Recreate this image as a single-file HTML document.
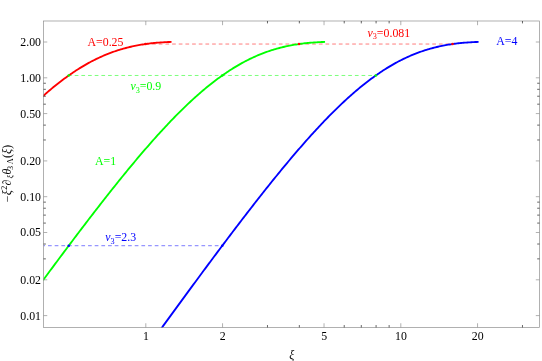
<!DOCTYPE html>
<html><head><meta charset="utf-8"><title>plot</title>
<style>
html,body{margin:0;padding:0;background:#fff;}
body{width:542px;height:361px;overflow:hidden;}
svg{display:block;will-change:transform;}
text{font-family:"Liberation Serif",serif;font-size:11.85px;}
.i{font-style:italic;}
</style></head><body>
<svg width="542" height="361" viewBox="0 0 542 361">
<rect width="542" height="361" fill="#fff"/>
<g fill="none" stroke-width="0.52">
<line x1="145.50" y1="44.04" x2="452.55" y2="44.04" stroke="#ff0000" stroke-dasharray="3.7 2.971" stroke-dashoffset="0.1"/>
<line x1="68.74" y1="75.48" x2="375.79" y2="75.48" stroke="#00ff00" stroke-dasharray="3.7 2.971" stroke-dashoffset="0.7"/>
<line x1="43.55" y1="245.71" x2="222.26" y2="245.71" stroke="#0000ff" stroke-dasharray="3.7 2.971" stroke-dashoffset="2.2"/>
</g>
<clipPath id="c"><rect x="43.25" y="21.00" width="496.25" height="306.75"/></clipPath>
<g fill="none" stroke-width="1.85" stroke-linejoin="round" stroke-linecap="square" clip-path="url(#c)">
<path d="M43.55 95.61 L43.97 95.23 L45.25 94.11 L46.53 92.99 L47.81 91.89 L49.09 90.79 L50.37 89.71 L51.65 88.64 L52.93 87.58 L54.21 86.54 L55.48 85.50 L56.76 84.48 L58.04 83.46 L59.32 82.46 L60.60 81.48 L61.88 80.50 L63.16 79.54 L64.44 78.59 L65.72 77.65 L67.00 76.72 L68.28 75.81 L69.56 74.90 L70.83 74.02 L72.11 73.14 L73.39 72.28 L74.67 71.43 L75.95 70.59 L77.23 69.76 L78.51 68.95 L79.79 68.15 L81.07 67.37 L82.35 66.59 L83.63 65.83 L84.91 65.09 L86.18 64.35 L87.46 63.63 L88.74 62.92 L90.02 62.23 L91.30 61.55 L92.58 60.88 L93.86 60.22 L95.14 59.58 L96.42 58.95 L97.70 58.34 L98.98 57.73 L100.26 57.14 L101.54 56.57 L102.81 56.00 L104.09 55.45 L105.37 54.91 L106.65 54.39 L107.93 53.88 L109.21 53.37 L110.49 52.89 L111.77 52.41 L113.05 51.95 L114.33 51.50 L115.61 51.06 L116.89 50.64 L118.16 50.22 L119.44 49.82 L120.72 49.43 L122.00 49.05 L123.28 48.69 L124.56 48.33 L125.84 47.99 L127.12 47.66 L128.40 47.33 L129.68 47.02 L130.96 46.73 L132.24 46.44 L133.52 46.16 L134.79 45.89 L136.07 45.64 L137.35 45.39 L138.63 45.15 L139.91 44.92 L141.19 44.71 L142.47 44.50 L143.75 44.30 L145.03 44.11 L146.31 43.93 L147.59 43.76 L148.87 43.59 L150.14 43.44 L151.42 43.29 L152.70 43.15 L153.98 43.02 L155.26 42.90 L156.54 42.78 L157.82 42.67 L159.10 42.57 L160.38 42.47 L161.66 42.38 L162.94 42.30 L164.22 42.22 L165.50 42.15 L166.77 42.08 L168.05 42.02 L169.33 41.96 L170.61 41.91" stroke="#ff0000"/>
<path d="M43.55 279.57 L43.99 278.97 L45.27 277.23 L46.55 275.50 L47.83 273.77 L49.11 272.04 L50.39 270.32 L51.67 268.59 L52.95 266.87 L54.23 265.14 L55.51 263.42 L56.78 261.70 L58.06 259.98 L59.34 258.26 L60.62 256.55 L61.90 254.84 L63.18 253.12 L64.46 251.41 L65.74 249.70 L67.02 248.00 L68.30 246.29 L69.58 244.59 L70.86 242.89 L72.14 241.19 L73.41 239.49 L74.69 237.80 L75.97 236.11 L77.25 234.42 L78.53 232.73 L79.81 231.04 L81.09 229.36 L82.37 227.68 L83.65 226.00 L84.93 224.32 L86.21 222.65 L87.49 220.97 L88.76 219.31 L90.04 217.64 L91.32 215.98 L92.60 214.32 L93.88 212.66 L95.16 211.00 L96.44 209.35 L97.72 207.70 L99.00 206.06 L100.28 204.41 L101.56 202.77 L102.84 201.14 L104.12 199.50 L105.39 197.87 L106.67 196.25 L107.95 194.63 L109.23 193.01 L110.51 191.39 L111.79 189.78 L113.07 188.17 L114.35 186.57 L115.63 184.97 L116.91 183.37 L118.19 181.78 L119.47 180.19 L120.74 178.61 L122.02 177.03 L123.30 175.46 L124.58 173.89 L125.86 172.32 L127.14 170.76 L128.42 169.21 L129.70 167.66 L130.98 166.11 L132.26 164.57 L133.54 163.04 L134.82 161.51 L136.10 159.98 L137.37 158.46 L138.65 156.95 L139.93 155.44 L141.21 153.94 L142.49 152.44 L143.77 150.95 L145.05 149.47 L146.33 147.99 L147.61 146.52 L148.89 145.05 L150.17 143.59 L151.45 142.14 L152.72 140.70 L154.00 139.26 L155.28 137.83 L156.56 136.40 L157.84 134.98 L159.12 133.57 L160.40 132.17 L161.68 130.78 L162.96 129.39 L164.24 128.01 L165.52 126.64 L166.80 125.27 L168.08 123.92 L169.35 122.57 L170.63 121.23 L171.91 119.90 L173.19 118.58 L174.47 117.26 L175.75 115.96 L177.03 114.66 L178.31 113.37 L179.59 112.10 L180.87 110.83 L182.15 109.57 L183.43 108.32 L184.70 107.08 L185.98 105.85 L187.26 104.63 L188.54 103.42 L189.82 102.22 L191.10 101.03 L192.38 99.85 L193.66 98.68 L194.94 97.52 L196.22 96.37 L197.50 95.23 L198.78 94.11 L200.06 92.99 L201.33 91.89 L202.61 90.79 L203.89 89.71 L205.17 88.64 L206.45 87.58 L207.73 86.54 L209.01 85.50 L210.29 84.48 L211.57 83.46 L212.85 82.46 L214.13 81.48 L215.41 80.50 L216.68 79.54 L217.96 78.59 L219.24 77.65 L220.52 76.72 L221.80 75.81 L223.08 74.90 L224.36 74.02 L225.64 73.14 L226.92 72.28 L228.20 71.43 L229.48 70.59 L230.76 69.76 L232.04 68.95 L233.31 68.15 L234.59 67.37 L235.87 66.59 L237.15 65.83 L238.43 65.09 L239.71 64.35 L240.99 63.63 L242.27 62.92 L243.55 62.23 L244.83 61.55 L246.11 60.88 L247.39 60.22 L248.66 59.58 L249.94 58.95 L251.22 58.34 L252.50 57.73 L253.78 57.14 L255.06 56.57 L256.34 56.00 L257.62 55.45 L258.90 54.91 L260.18 54.39 L261.46 53.88 L262.74 53.37 L264.02 52.89 L265.29 52.41 L266.57 51.95 L267.85 51.50 L269.13 51.06 L270.41 50.64 L271.69 50.22 L272.97 49.82 L274.25 49.43 L275.53 49.05 L276.81 48.69 L278.09 48.33 L279.37 47.99 L280.64 47.66 L281.92 47.33 L283.20 47.02 L284.48 46.73 L285.76 46.44 L287.04 46.16 L288.32 45.89 L289.60 45.64 L290.88 45.39 L292.16 45.15 L293.44 44.92 L294.72 44.71 L295.99 44.50 L297.27 44.30 L298.55 44.11 L299.83 43.93 L301.11 43.76 L302.39 43.59 L303.67 43.44 L304.95 43.29 L306.23 43.15 L307.51 43.02 L308.79 42.90 L310.07 42.78 L311.35 42.67 L312.62 42.57 L313.90 42.47 L315.18 42.38 L316.46 42.30 L317.74 42.22 L319.02 42.15 L320.30 42.08 L321.58 42.02 L322.86 41.96 L324.14 41.91" stroke="#00ff00"/>
<path d="M162.04 327.45 L162.98 326.15 L164.26 324.39 L165.54 322.64 L166.82 320.88 L168.10 319.12 L169.38 317.37 L170.66 315.61 L171.93 313.86 L173.21 312.10 L174.49 310.35 L175.77 308.60 L177.05 306.85 L178.33 305.10 L179.61 303.35 L180.89 301.60 L182.17 299.85 L183.45 298.11 L184.73 296.36 L186.01 294.62 L187.28 292.87 L188.56 291.13 L189.84 289.39 L191.12 287.65 L192.40 285.91 L193.68 284.17 L194.96 282.44 L196.24 280.70 L197.52 278.97 L198.80 277.23 L200.08 275.50 L201.36 273.77 L202.64 272.04 L203.91 270.32 L205.19 268.59 L206.47 266.87 L207.75 265.14 L209.03 263.42 L210.31 261.70 L211.59 259.98 L212.87 258.26 L214.15 256.55 L215.43 254.84 L216.71 253.12 L217.99 251.41 L219.26 249.70 L220.54 248.00 L221.82 246.29 L223.10 244.59 L224.38 242.89 L225.66 241.19 L226.94 239.49 L228.22 237.80 L229.50 236.11 L230.78 234.42 L232.06 232.73 L233.34 231.04 L234.62 229.36 L235.89 227.68 L237.17 226.00 L238.45 224.32 L239.73 222.65 L241.01 220.97 L242.29 219.31 L243.57 217.64 L244.85 215.98 L246.13 214.32 L247.41 212.66 L248.69 211.00 L249.97 209.35 L251.24 207.70 L252.52 206.06 L253.80 204.41 L255.08 202.77 L256.36 201.14 L257.64 199.50 L258.92 197.87 L260.20 196.25 L261.48 194.63 L262.76 193.01 L264.04 191.39 L265.32 189.78 L266.59 188.17 L267.87 186.57 L269.15 184.97 L270.43 183.37 L271.71 181.78 L272.99 180.19 L274.27 178.61 L275.55 177.03 L276.83 175.46 L278.11 173.89 L279.39 172.32 L280.67 170.76 L281.95 169.21 L283.22 167.66 L284.50 166.11 L285.78 164.57 L287.06 163.04 L288.34 161.51 L289.62 159.98 L290.90 158.46 L292.18 156.95 L293.46 155.44 L294.74 153.94 L296.02 152.44 L297.30 150.95 L298.57 149.47 L299.85 147.99 L301.13 146.52 L302.41 145.05 L303.69 143.59 L304.97 142.14 L306.25 140.70 L307.53 139.26 L308.81 137.83 L310.09 136.40 L311.37 134.98 L312.65 133.57 L313.93 132.17 L315.20 130.78 L316.48 129.39 L317.76 128.01 L319.04 126.64 L320.32 125.27 L321.60 123.92 L322.88 122.57 L324.16 121.23 L325.44 119.90 L326.72 118.58 L328.00 117.26 L329.28 115.96 L330.55 114.66 L331.83 113.37 L333.11 112.10 L334.39 110.83 L335.67 109.57 L336.95 108.32 L338.23 107.08 L339.51 105.85 L340.79 104.63 L342.07 103.42 L343.35 102.22 L344.63 101.03 L345.91 99.85 L347.18 98.68 L348.46 97.52 L349.74 96.37 L351.02 95.23 L352.30 94.11 L353.58 92.99 L354.86 91.89 L356.14 90.79 L357.42 89.71 L358.70 88.64 L359.98 87.58 L361.26 86.54 L362.53 85.50 L363.81 84.48 L365.09 83.46 L366.37 82.46 L367.65 81.48 L368.93 80.50 L370.21 79.54 L371.49 78.59 L372.77 77.65 L374.05 76.72 L375.33 75.81 L376.61 74.90 L377.89 74.02 L379.16 73.14 L380.44 72.28 L381.72 71.43 L383.00 70.59 L384.28 69.76 L385.56 68.95 L386.84 68.15 L388.12 67.37 L389.40 66.59 L390.68 65.83 L391.96 65.09 L393.24 64.35 L394.51 63.63 L395.79 62.92 L397.07 62.23 L398.35 61.55 L399.63 60.88 L400.91 60.22 L402.19 59.58 L403.47 58.95 L404.75 58.34 L406.03 57.73 L407.31 57.14 L408.59 56.57 L409.87 56.00 L411.14 55.45 L412.42 54.91 L413.70 54.39 L414.98 53.88 L416.26 53.37 L417.54 52.89 L418.82 52.41 L420.10 51.95 L421.38 51.50 L422.66 51.06 L423.94 50.64 L425.22 50.22 L426.49 49.82 L427.77 49.43 L429.05 49.05 L430.33 48.69 L431.61 48.33 L432.89 47.99 L434.17 47.66 L435.45 47.33 L436.73 47.02 L438.01 46.73 L439.29 46.44 L440.57 46.16 L441.85 45.89 L443.12 45.64 L444.40 45.39 L445.68 45.15 L446.96 44.92 L448.24 44.71 L449.52 44.50 L450.80 44.30 L452.08 44.11 L453.36 43.93 L454.64 43.76 L455.92 43.59 L457.20 43.44 L458.47 43.29 L459.75 43.15 L461.03 43.02 L462.31 42.90 L463.59 42.78 L464.87 42.67 L466.15 42.57 L467.43 42.47 L468.71 42.38 L469.99 42.30 L471.27 42.22 L472.55 42.15 L473.83 42.08 L475.10 42.02 L476.38 41.96 L477.66 41.91" stroke="#0000ff"/>
</g>
<circle cx="145.50" cy="44.04" r="1.3" fill="#ff0000"/>
<circle cx="299.03" cy="44.04" r="1.3" fill="#ff0000"/>
<circle cx="452.55" cy="44.04" r="1.3" fill="#ff0000"/>
<circle cx="68.74" cy="75.48" r="1.3" fill="#00ff00"/>
<circle cx="222.26" cy="75.48" r="1.3" fill="#00ff00"/>
<circle cx="375.79" cy="75.48" r="1.3" fill="#00ff00"/>
<circle cx="68.74" cy="245.71" r="1.3" fill="#0000ff"/>
<circle cx="222.26" cy="245.71" r="1.3" fill="#0000ff"/>
<g stroke="#8a8a8a" stroke-width="0.67" fill="none">
<rect x="43.55" y="21.00" width="495.95" height="306.45"/>
<path d="M145.80 327.45 v-4.20 M145.80 21.00 v4.20"/>
<path d="M222.56 327.45 v-4.20 M222.56 21.00 v4.20"/>
<path d="M324.04 327.45 v-4.20 M324.04 21.00 v4.20"/>
<path d="M400.80 327.45 v-4.20 M400.80 21.00 v4.20"/>
<path d="M477.56 327.45 v-4.20 M477.56 21.00 v4.20"/>
<path d="M267.47 327.45 v-2.40 M267.47 21.00 v2.40" stroke="#222" stroke-width="0.7"/>
<path d="M299.33 327.45 v-2.40 M299.33 21.00 v2.40" stroke="#222" stroke-width="0.7"/>
<path d="M344.23 327.45 v-2.40 M344.23 21.00 v2.40" stroke="#222" stroke-width="0.7"/>
<path d="M361.30 327.45 v-2.40 M361.30 21.00 v2.40" stroke="#222" stroke-width="0.7"/>
<path d="M376.09 327.45 v-2.40 M376.09 21.00 v2.40" stroke="#222" stroke-width="0.7"/>
<path d="M389.13 327.45 v-2.40 M389.13 21.00 v2.40" stroke="#222" stroke-width="0.7"/>
<path d="M522.47 327.45 v-2.40 M522.47 21.00 v2.40" stroke="#222" stroke-width="0.7"/>
<path d="M43.55 315.60 h3.70 M539.50 315.60 h-3.70"/>
<path d="M43.55 279.81 h3.70 M539.50 279.81 h-3.70"/>
<path d="M43.55 232.49 h3.70 M539.50 232.49 h-3.70"/>
<path d="M43.55 196.70 h3.70 M539.50 196.70 h-3.70"/>
<path d="M43.55 160.91 h3.70 M539.50 160.91 h-3.70"/>
<path d="M43.55 113.59 h3.70 M539.50 113.59 h-3.70"/>
<path d="M43.55 77.80 h3.70 M539.50 77.80 h-3.70"/>
<path d="M43.55 42.01 h3.70 M539.50 42.01 h-3.70"/>
<path d="M43.55 258.87 h2.30 M539.50 258.87 h-2.30" stroke="#222" stroke-width="0.7"/>
<path d="M43.55 244.02 h2.30 M539.50 244.02 h-2.30" stroke="#222" stroke-width="0.7"/>
<path d="M43.55 223.08 h2.30 M539.50 223.08 h-2.30" stroke="#222" stroke-width="0.7"/>
<path d="M43.55 215.12 h2.30 M539.50 215.12 h-2.30" stroke="#222" stroke-width="0.7"/>
<path d="M43.55 208.22 h2.30 M539.50 208.22 h-2.30" stroke="#222" stroke-width="0.7"/>
<path d="M43.55 202.14 h2.30 M539.50 202.14 h-2.30" stroke="#222" stroke-width="0.7"/>
<path d="M43.55 139.97 h2.30 M539.50 139.97 h-2.30" stroke="#222" stroke-width="0.7"/>
<path d="M43.55 125.12 h2.30 M539.50 125.12 h-2.30" stroke="#222" stroke-width="0.7"/>
<path d="M43.55 104.18 h2.30 M539.50 104.18 h-2.30" stroke="#222" stroke-width="0.7"/>
<path d="M43.55 96.22 h2.30 M539.50 96.22 h-2.30" stroke="#222" stroke-width="0.7"/>
<path d="M43.55 89.32 h2.30 M539.50 89.32 h-2.30" stroke="#222" stroke-width="0.7"/>
<path d="M43.55 83.24 h2.30 M539.50 83.24 h-2.30" stroke="#222" stroke-width="0.7"/>
</g>
<g fill="#000">
<text transform="translate(145.90,340.30) scale(1,1.12)" text-anchor="middle">1</text>
<text transform="translate(222.66,340.30) scale(1,1.12)" text-anchor="middle">2</text>
<text transform="translate(324.14,340.30) scale(1,1.12)" text-anchor="middle">5</text>
<text transform="translate(400.90,340.30) scale(1,1.12)" text-anchor="middle">10</text>
<text transform="translate(477.66,340.30) scale(1,1.12)" text-anchor="middle">20</text>
<text transform="translate(41.00,319.60) scale(1,1.12)" text-anchor="end">0.01</text>
<text transform="translate(41.00,283.81) scale(1,1.12)" text-anchor="end">0.02</text>
<text transform="translate(41.00,236.49) scale(1,1.12)" text-anchor="end">0.05</text>
<text transform="translate(41.00,200.70) scale(1,1.12)" text-anchor="end">0.10</text>
<text transform="translate(41.00,164.91) scale(1,1.12)" text-anchor="end">0.20</text>
<text transform="translate(41.00,117.59) scale(1,1.12)" text-anchor="end">0.50</text>
<text transform="translate(41.00,81.80) scale(1,1.12)" text-anchor="end">1.00</text>
<text transform="translate(41.00,46.01) scale(1,1.12)" text-anchor="end">2.00</text>
<text transform="translate(291.80,359.30) scale(1,1.12)" text-anchor="middle"><tspan class="i">ξ</tspan></text>
<g transform="translate(11.4,202) rotate(-90) scale(1,1.0)" text-anchor="middle">
<text x="3.00" y="0.00">−</text>
<text x="9.40" y="0.00" class="i">ξ</text>
<text x="14.40" y="-4.70" style="font-size:8.2px">2</text>
<text x="19.80" y="0.00" class="i">∂</text>
<text x="25.20" y="1.90" class="i" style="font-size:8.2px">ξ</text>
<text x="30.40" y="0.00" class="i">θ</text>
<text x="34.10" y="1.90" style="font-size:8.2px">3</text>
<text x="40.80" y="1.90" style="font-size:8.2px">Λ</text>
<text x="46.00" y="0.00">(</text>
<text x="50.60" y="0.00" class="i">ξ</text>
<text x="55.20" y="0.00">)</text>
</g>
</g>
<text transform="translate(87.50,45.90) scale(1,1.12)" fill="#ff0000">A=0.25</text>
<text transform="translate(95.00,164.60) scale(1,1.12)" fill="#00ff00">A=1</text>
<text transform="translate(496.20,45.00) scale(1,1.12)" fill="#0000ff">A=4</text>
<text transform="translate(367.50,36.50) scale(1,1.12)" fill="#ff0000"><tspan class="i">v</tspan><tspan dy="2.6" style="font-size:8.2px">3</tspan><tspan dy="-2.6">=0.081</tspan></text>
<text transform="translate(130.40,90.00) scale(1,1.12)" fill="#00ff00"><tspan class="i">v</tspan><tspan dy="2.6" style="font-size:8.2px">3</tspan><tspan dy="-2.6">=0.9</tspan></text>
<text transform="translate(105.30,241.40) scale(1,1.12)" fill="#0000ff"><tspan class="i">v</tspan><tspan dy="2.6" style="font-size:8.2px">3</tspan><tspan dy="-2.6">=2.3</tspan></text>
</svg>
</body></html>
